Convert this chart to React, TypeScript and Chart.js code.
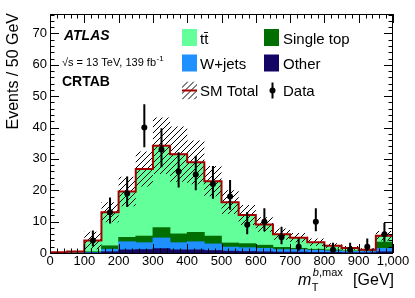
import React, { useEffect, useRef } from 'react';
import { Chart, registerables } from 'chart.js';

Chart.register(...registerables);

// ---- data ----
const binEdges = [0, 50, 100, 150, 200, 250, 300, 350, 400, 450, 500, 550, 600, 650, 700, 750, 800, 850, 900, 950, 1000];
const other = [0, 0, 0.05, 0.4, 1.0, 1.1, 1.4, 1.0, 1.0, 0.8, 0.6, 0.5, 0.4, 0.3, 0.3, 0.2, 0.2, 0.1, 0.1, 0.4];
const wJets = [0, 0, 0.15, 0.8, 2.6, 2.2, 3.4, 2.3, 2.6, 2.1, 1.3, 1.2, 1.1, 0.8, 0.8, 0.7, 0.5, 0.4, 0.4, 1.1];
const singleTop = [0, 0, 0.2, 1.1, 1.4, 2.1, 3.3, 2.8, 3.0, 2.5, 1.3, 1.3, 1.0, 0.7, 0.4, 0.3, 0.3, 0.2, 0.2, 2.0];
const ttbar = [0.2, 0.5, 3.6, 10.7, 14.6, 21.4, 26.1, 25.4, 22.3, 17.5, 13.0, 9.1, 6.6, 4.2, 3.4, 2.2, 1.3, 0.9, 0.3, 2.0];
const smTotal = [0.2, 0.5, 4.0, 13.0, 19.6, 26.8, 34.2, 31.5, 28.9, 22.9, 16.2, 12.1, 9.1, 6.0, 4.9, 3.4, 2.3, 1.6, 1.0, 5.5];
const smUncertainty = [0.1, 0.2, 2.8, 3.2, 4.7, 5.6, 9.0, 8.8, 7.0, 4.8, 3.8, 3.2, 2.3, 1.8, 1.5, 1.2, 0.8, 0.6, 0.5, 1.5];
const dataValues = [null, null, 4, 13, 19, 40, 33, 26, 25, 22, 18, 9, 10, 5, 2, 10, 1, 1, 2, 6];
const dataErrUp = [0, 0, 3.2, 4.7, 5.4, 7.4, 6.8, 6.1, 6.0, 5.7, 5.3, 4.1, 4.3, 3.4, 2.6, 4.3, 2.3, 2.3, 2.6, 3.6];
const dataErrDown = [0, 0, 1.9, 3.6, 4.3, 6.3, 5.7, 5.1, 5.0, 4.7, 4.2, 3.0, 3.1, 2.2, 1.3, 3.1, 0.8, 0.8, 1.3, 2.4];
const xTicks = [0, 100, 200, 300, 400, 500, 600, 700, 800, 900, 1000];
const yTicks = [0, 10, 20, 30, 40, 50, 60, 70];
const legendLabels = ['t\u0074\u0304', 'Single top', 'W+jets', 'Other', 'SM Total', 'Data'];

const FONT = "'Liberation Sans', Arial, Helvetica, sans-serif";
const colTtbar = 'rgb(98,255,155)';
const colSingleTop = 'rgb(0,110,0)';
const colWjets = 'rgb(30,144,255)';
const colOther = 'rgb(20,5,100)';
const colSM = 'rgb(165,0,0)';

const binCenters = binEdges.slice(0, -1).map((e, i) => (e + binEdges[i + 1]) / 2);
const toBars = (vals: number[]) => vals.map((y, i) => ({ x: binCenters[i], y }));

function drawHatchLines(ctx: CanvasRenderingContext2D, l: number, t: number, r: number, b: number, spacing: number) {
  const h = b - t;
  ctx.beginPath();
  for (let x = l - h; x <= r; x += spacing) {
    ctx.moveTo(x, b);
    ctx.lineTo(x + h, t);
  }
  ctx.strokeStyle = '#000';
  ctx.lineWidth = 1;
  ctx.stroke();
}

const atlasPlugin = {
  id: 'atlasPlugin',
  beforeDatasetDraw(chart: any, args: any) {
    const ctx: CanvasRenderingContext2D = chart.ctx;
    const xs = chart.scales.x;
    const ys = chart.scales.y;
    const area = chart.chartArea;
    if (args.index === 1) {
      ctx.save();
      ctx.beginPath();
      ctx.rect(area.left, area.top, area.right - area.left, area.bottom - area.top);
      ctx.clip();
      ctx.beginPath();
      for (let i = 0; i < smTotal.length; i++) {
        const x0 = xs.getPixelForValue(binEdges[i]);
        const x1 = xs.getPixelForValue(binEdges[i + 1]);
        const yt = ys.getPixelForValue(smTotal[i] + smUncertainty[i]);
        const yb = ys.getPixelForValue(Math.max(0, smTotal[i] - smUncertainty[i]));
        ctx.rect(x0, yt, x1 - x0, yb - yt);
      }
      ctx.clip();
      drawHatchLines(ctx, area.left, area.top, area.right, area.bottom, 6);
      ctx.restore();
    }
    if (args.index === 0) {
      ctx.save();
      ctx.strokeStyle = '#000';
      ctx.lineWidth = 2;
      ctx.beginPath();
      for (let i = 0; i < dataValues.length; i++) {
        const v = dataValues[i];
        if (v === null) continue;
        const px = xs.getPixelForValue(binCenters[i]);
        ctx.moveTo(px, ys.getPixelForValue(v + dataErrUp[i]));
        ctx.lineTo(px, ys.getPixelForValue(v - dataErrDown[i]));
      }
      ctx.stroke();
      ctx.restore();
    }
  },
  afterDatasetsDraw(chart: any) {
    const ctx: CanvasRenderingContext2D = chart.ctx;
    const xs = chart.scales.x;
    const ys = chart.scales.y;
    const { left, right, top, bottom } = chart.chartArea;
    ctx.save();
    ctx.strokeStyle = '#000';
    ctx.lineWidth = 1;
    ctx.beginPath();
    for (let v = xs.min; v <= xs.max + 1e-6; v += 20) {
      const px = Math.round(xs.getPixelForValue(v)) + 0.5;
      const len = v % 100 === 0 ? 9 : 4.5;
      ctx.moveTo(px, bottom);
      ctx.lineTo(px, bottom - len);
      ctx.moveTo(px, top);
      ctx.lineTo(px, top + len);
    }
    for (let v = 0; v <= ys.max + 1e-6; v += 2) {
      const py = Math.round(ys.getPixelForValue(v)) + 0.5;
      const len = v % 10 === 0 ? 9 : 4.5;
      ctx.moveTo(left, py);
      ctx.lineTo(left + len, py);
      ctx.moveTo(right, py);
      ctx.lineTo(right - len, py);
    }
    ctx.stroke();
    ctx.strokeRect(Math.round(left) + 0.5, Math.round(top) + 0.5, Math.round(right - left) - 1, Math.round(bottom - top));
    ctx.restore();
  },
  afterDraw(chart: any) {
    const ctx: CanvasRenderingContext2D = chart.ctx;
    const { left, right, top, bottom } = chart.chartArea;
    ctx.save();
    ctx.fillStyle = '#000';
    ctx.textBaseline = 'alphabetic';
    ctx.textAlign = 'left';

    // ATLAS label
    ctx.font = `italic bold 14px ${FONT}`;
    ctx.fillText('ATLAS', left + 14, top + 26);
    ctx.font = `11px ${FONT}`;
    const s1 = '\u221As = 13 TeV, 139 fb';
    ctx.fillText(s1, left + 12, top + 51.5);
    const w1 = ctx.measureText(s1).width;
    ctx.font = `8px ${FONT}`;
    ctx.fillText('-1', left + 12 + w1 + 0.5, top + 47);
    ctx.font = `bold 14px ${FONT}`;
    ctx.fillText('CRTAB', left + 12, top + 72);

    // legend
    const c1 = left + 132;
    const c2 = left + 214;
    const rows = [top + 15, top + 40.5, top + 67.5];
    const bw = 15, bh = 17;
    const boxes = [
      [c1, rows[0], colTtbar], [c2, rows[0], colSingleTop],
      [c1, rows[1], colWjets], [c2, rows[1], colOther],
    ] as [number, number, string][];
    boxes.forEach(([x, y, c]) => { ctx.fillStyle = c; ctx.fillRect(x, y, bw, bh); });
    ctx.save();
    ctx.beginPath();
    ctx.rect(c1, rows[2], bw, bh + 1);
    ctx.clip();
    drawHatchLines(ctx, c1, rows[2], c1 + bw, rows[2] + bh + 1, 6);
    ctx.restore();
    ctx.strokeStyle = colSM;
    ctx.lineWidth = 2;
    ctx.beginPath();
    ctx.moveTo(c1, rows[2] + 9);
    ctx.lineTo(c1 + bw, rows[2] + 9);
    ctx.stroke();
    ctx.strokeStyle = '#000';
    ctx.beginPath();
    ctx.moveTo(c2 + 8.5, rows[2] + 1);
    ctx.lineTo(c2 + 8.5, rows[2] + 17);
    ctx.stroke();
    ctx.fillStyle = '#000';
    ctx.beginPath();
    ctx.arc(c2 + 8.5, rows[2] + 9, 3, 0, Math.PI * 2);
    ctx.fill();

    ctx.font = `15px ${FONT}`;
    ctx.fillStyle = '#000';
    const tx1 = c1 + 18, tx2 = c2 + 19;
    ctx.fillText(legendLabels[0], tx1, rows[0] + 14.5);
    ctx.fillText(legendLabels[1], tx2, rows[0] + 14.5);
    ctx.fillText(legendLabels[2], tx1, rows[1] + 14.5);
    ctx.fillText(legendLabels[3], tx2, rows[1] + 14.5);
    ctx.fillText(legendLabels[4], tx1, rows[2] + 14.5);
    ctx.fillText(legendLabels[5], tx2, rows[2] + 14.5);

    // x title
    const base = bottom + 32;
    ctx.font = `16px ${FONT}`;
    ctx.textAlign = 'right';
    ctx.fillText('[GeV]', right + 1, base);
    ctx.textAlign = 'left';
    const mx = right - 95;
    ctx.font = `italic 16px ${FONT}`;
    ctx.fillText('m', mx, base);
    const mw = ctx.measureText('m').width;
    ctx.font = `11px ${FONT}`;
    ctx.fillText('T', mx + mw + 0.5, base + 6);
    ctx.font = `italic 11px ${FONT}`;
    ctx.fillText('b', mx + mw + 1.5, base - 9);
    const bwid = ctx.measureText('b').width;
    ctx.font = `11px ${FONT}`;
    ctx.fillText(',max', mx + mw + 1.5 + bwid, base - 9);

    // y title
    ctx.save();
    ctx.translate(14, top - 1);
    ctx.rotate(-Math.PI / 2);
    ctx.font = `16px ${FONT}`;
    ctx.textAlign = 'right';
    ctx.textBaseline = 'middle';
    ctx.fillText('Events / 50 GeV', 0, 0);
    ctx.restore();

    ctx.restore();
  },
};

export default function App() {
  const ref = useRef<HTMLCanvasElement>(null);
  useEffect(() => {
    if (!ref.current) return;
    const tickFont = { family: FONT, size: 13 };
    const chart = new Chart(ref.current, {
      type: 'bar',
      data: {
        datasets: [
          {
            type: 'line',
            label: 'Data',
            data: dataValues.map((y, i) => ({ x: binCenters[i], y })) as any,
            showLine: false,
            pointRadius: 3,
            pointBackgroundColor: '#000',
            pointBorderWidth: 0,
            borderColor: '#000',
            stack: 'data',
          } as any,
          {
            type: 'line',
            label: 'SM Total',
            data: binEdges.map((x, i) => ({ x, y: smTotal[Math.min(i, smTotal.length - 1)] })),
            stepped: 'before',
            borderColor: colSM,
            borderWidth: 2,
            pointRadius: 0,
            fill: false,
            stack: 'sm',
          } as any,
          { label: 'Other', data: toBars(other), backgroundColor: colOther, barPercentage: 1, categoryPercentage: 1, borderWidth: 0 } as any,
          { label: 'W+jets', data: toBars(wJets), backgroundColor: colWjets, barPercentage: 1, categoryPercentage: 1, borderWidth: 0 } as any,
          { label: 'Single top', data: toBars(singleTop), backgroundColor: colSingleTop, barPercentage: 1, categoryPercentage: 1, borderWidth: 0 } as any,
          { label: 'ttbar', data: toBars(ttbar), backgroundColor: colTtbar, barPercentage: 1, categoryPercentage: 1, borderWidth: 0 } as any,
        ],
      },
      options: {
        animation: false,
        responsive: false,
        devicePixelRatio: 1,
        layout: { padding: { left: 0, top: 14, right: 22, bottom: 0 } },
        plugins: { legend: { display: false }, tooltip: { enabled: false }, title: { display: false } },
        scales: {
          x: {
            type: 'linear',
            min: 0,
            max: 1000,
            offset: false,
            stacked: true,
            grid: { display: false, drawTicks: false },
            border: { display: false },
            ticks: { autoSkip: false, maxRotation: 0, padding: 1, color: '#000', font: tickFont },
            afterBuildTicks: (s: any) => { s.ticks = xTicks.map((v) => ({ value: v })); },
            afterFit: (s: any) => { s.height = 45; },
          },
          y: {
            type: 'linear',
            min: 0,
            max: 76.2,
            stacked: true,
            grid: { display: false, drawTicks: false },
            border: { display: false },
            ticks: { padding: 3, color: '#000', font: tickFont },
            afterBuildTicks: (s: any) => { s.ticks = yTicks.map((v) => ({ value: v })); },
            afterFit: (s: any) => { s.width = 50; },
          },
        } as any,
      },
      plugins: [atlasPlugin],
    } as any);
    return () => chart.destroy();
  }, []);
  return (
    <div style={{ position: 'fixed', left: 0, top: 0, width: 415, height: 298, background: '#fff' }}>
      <canvas ref={ref} width={415} height={298} style={{ display: 'block', width: 415, height: 298 }} />
    </div>
  );
}
